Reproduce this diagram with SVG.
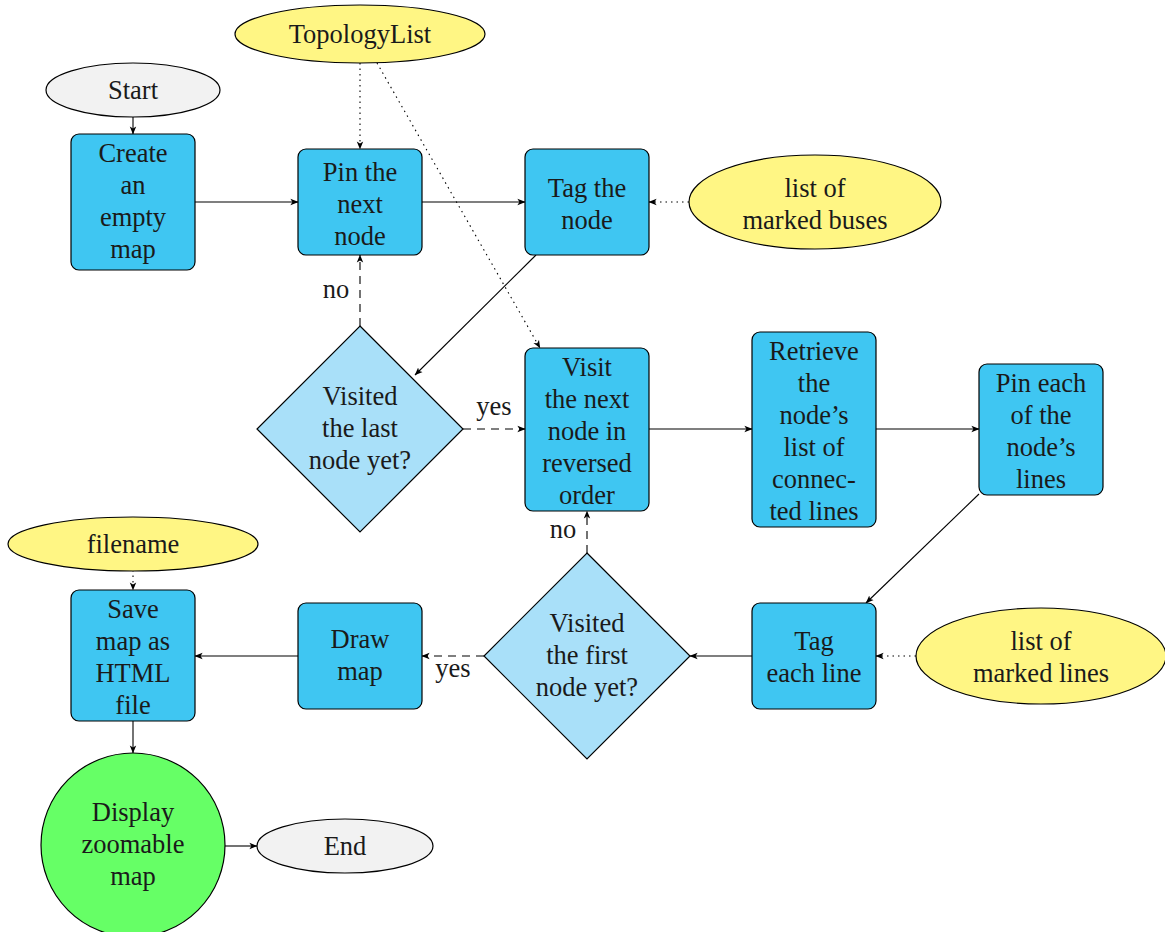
<svg xmlns="http://www.w3.org/2000/svg" width="1165" height="932" viewBox="0 0 1165 932">
<style>
text{font-family:"Liberation Serif","Times New Roman",serif;font-size:26.5px;fill:#1a1a1a;text-anchor:middle}
.box{fill:#3FC6F2;stroke:#000;stroke-width:1.2}
.dia{fill:#A9E0F9;stroke:#000;stroke-width:1.2}
.data{fill:#FFF684;stroke:#000;stroke-width:1.2}
.term{fill:#F2F2F2;stroke:#000;stroke-width:1.2}
.disp{fill:#66FF66;stroke:#000;stroke-width:1.2}
.c{stroke:#000;stroke-width:1.1;fill:none;marker-end:url(#ah)}
.dash{stroke-dasharray:8 6}
.dot{stroke-dasharray:1.5 4}
</style>
<defs>
<marker id="ah" viewBox="0 0 10 10" refX="9.5" refY="5" markerWidth="8" markerHeight="8" orient="auto" markerUnits="userSpaceOnUse">
<path d="M0,1 L10,5 L0,9 L2.5,5 Z" fill="#000"/>
</marker>
</defs>
<g id="connectors">
<line class="c" x1="133" y1="117" x2="133" y2="134"/>
<line class="c" x1="195" y1="202" x2="298" y2="202"/>
<line class="c" x1="422" y1="202" x2="525" y2="202"/>
<line class="c dot" x1="689" y1="202" x2="649" y2="202"/>
<line class="c dot" x1="360" y1="63" x2="360" y2="149"/>
<line class="c dot" x1="377" y1="63" x2="540" y2="348"/>
<line class="c" x1="536" y1="255" x2="415" y2="375"/>
<line class="c dash" x1="360" y1="326" x2="360" y2="255"/>
<line class="c dash" x1="463" y1="429" x2="525" y2="429"/>
<line class="c" x1="649" y1="429" x2="752" y2="429"/>
<line class="c" x1="876" y1="429" x2="979" y2="429"/>
<line class="c" x1="979" y1="494" x2="866" y2="603"/>
<line class="c dot" x1="916" y1="656" x2="876" y2="656"/>
<line class="c" x1="752" y1="656" x2="690" y2="656"/>
<line class="c dash" x1="587" y1="553" x2="587" y2="511"/>
<line class="c dash" x1="484" y1="656" x2="422" y2="656"/>
<line class="c" x1="298" y1="656" x2="195" y2="656"/>
<line class="c dot" x1="133" y1="570" x2="133" y2="590"/>
<line class="c" x1="133" y1="721" x2="133" y2="753"/>
<line class="c" x1="225" y1="846" x2="257" y2="846"/>
<text x="336" y="298">no</text>
<text x="494" y="415">yes</text>
<text x="563" y="538">no</text>
<text x="453" y="677">yes</text>
</g>
<g id="start"><ellipse class="term" cx="133" cy="90" rx="87" ry="27"/><text x="133" y="99">Start</text></g>
<g id="topology"><ellipse class="data" cx="360" cy="34" rx="125" ry="29"/><text x="360" y="43">TopologyList</text></g>
<g id="create"><rect class="box" x="71" y="134" width="124" height="136" rx="8"/><text x="133"><tspan x="133" y="162">Create</tspan><tspan x="133" y="194">an</tspan><tspan x="133" y="226">empty</tspan><tspan x="133" y="258">map</tspan></text></g>
<g id="pin"><rect class="box" x="298" y="149" width="124" height="106" rx="8"/><text><tspan x="360" y="181">Pin the</tspan><tspan x="360" y="213">next</tspan><tspan x="360" y="245">node</tspan></text></g>
<g id="tag"><rect class="box" x="525" y="149" width="124" height="106" rx="8"/><text><tspan x="587" y="197">Tag the</tspan><tspan x="587" y="229">node</tspan></text></g>
<g id="buses"><ellipse class="data" cx="815" cy="202" rx="126" ry="47"/><text><tspan x="815" y="197">list of</tspan><tspan x="815" y="229">marked buses</tspan></text></g>
<g id="dlast"><polygon class="dia" points="360,326 463,429 360,532 257,429"/><text><tspan x="360" y="405">Visited</tspan><tspan x="360" y="437">the last</tspan><tspan x="360" y="469">node yet?</tspan></text></g>
<g id="visit"><rect class="box" x="525" y="348" width="124" height="163" rx="8"/><text><tspan x="587" y="376">Visit</tspan><tspan x="587" y="408">the next</tspan><tspan x="587" y="440">node in</tspan><tspan x="587" y="472">reversed</tspan><tspan x="587" y="504">order</tspan></text></g>
<g id="retrieve"><rect class="box" x="752" y="332" width="124" height="195" rx="8"/><text><tspan x="814" y="360">Retrieve</tspan><tspan x="814" y="392">the</tspan><tspan x="814" y="424">node’s</tspan><tspan x="814" y="456">list of</tspan><tspan x="814" y="488">connec-</tspan><tspan x="814" y="520">ted lines</tspan></text></g>
<g id="pineach"><rect class="box" x="979" y="364" width="124" height="131" rx="8"/><text><tspan x="1041" y="392">Pin each</tspan><tspan x="1041" y="424">of the</tspan><tspan x="1041" y="456">node’s</tspan><tspan x="1041" y="488">lines</tspan></text></g>
<g id="filename"><ellipse class="data" cx="133" cy="544" rx="125" ry="27"/><text x="133" y="553">filename</text></g>
<g id="save"><rect class="box" x="71" y="590" width="124" height="131" rx="8"/><text><tspan x="133" y="618">Save</tspan><tspan x="133" y="650">map as</tspan><tspan x="133" y="682">HTML</tspan><tspan x="133" y="714">file</tspan></text></g>
<g id="draw"><rect class="box" x="298" y="603" width="124" height="106" rx="8"/><text><tspan x="360" y="648">Draw</tspan><tspan x="360" y="680">map</tspan></text></g>
<g id="dfirst"><polygon class="dia" points="587,553 690,656 587,759 484,656"/><text><tspan x="587" y="632">Visited</tspan><tspan x="587" y="664">the first</tspan><tspan x="587" y="696">node yet?</tspan></text></g>
<g id="tageach"><rect class="box" x="752" y="603" width="124" height="106" rx="8"/><text><tspan x="814" y="650">Tag</tspan><tspan x="814" y="682">each line</tspan></text></g>
<g id="lines"><ellipse class="data" cx="1041" cy="656" rx="125" ry="48"/><text><tspan x="1041" y="650">list of</tspan><tspan x="1041" y="682">marked lines</tspan></text></g>
<g id="display"><circle class="disp" cx="133" cy="845" r="92"/><text><tspan x="133" y="821">Display</tspan><tspan x="133" y="853">zoomable</tspan><tspan x="133" y="885">map</tspan></text></g>
<g id="end"><ellipse class="term" cx="345" cy="846" rx="88" ry="27"/><text x="345" y="855">End</text></g>
</svg>
